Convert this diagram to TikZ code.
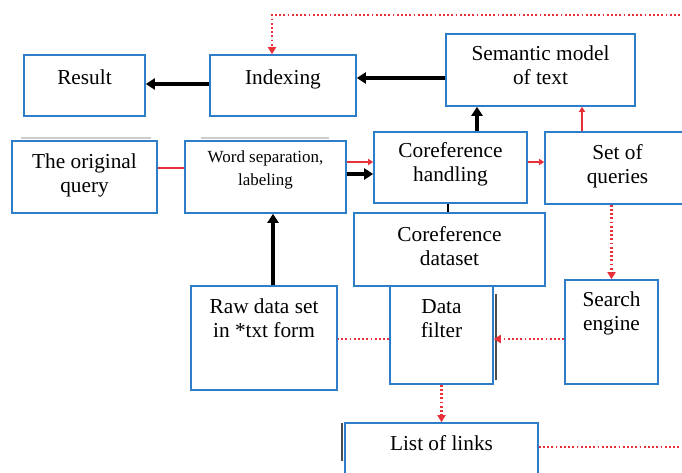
\documentclass[tikz,border=0pt]{standalone}
\usepackage{fontspec}
\setmainfont{Liberation Serif}
\usetikzlibrary{positioning, arrows.meta}

\definecolor{boxblue}{RGB}{46,125,200}
\definecolor{linkred}{RGB}{232,48,58}

\begin{document}
\begin{tikzpicture}[
		x=1pt, y=-1pt,
		box/.style={draw=boxblue, line width=1.6pt, fill=white, align=center, inner sep=0pt, font=\fontsize{21.3}{24}\selectfont},
		lift/.style={text height=0pt, text depth=#1},
		sink/.style={text height=#1, text depth=0pt},
		flow/.style={-{Triangle[length=9pt, width=11pt]}, line width=3.8pt},
		link/.style={draw=linkred, line width=1.8pt},
		feed/.style={link, -{Triangle[length=5pt, width=6pt]}},
		dots/.style={draw=linkred, line width=2.2pt, dash pattern=on 1.8pt off 2.4pt},
		query/.style={dots, -{Triangle[length=7pt, width=8pt]}},
		shade/.style={line width=1.8pt}
		]
		
		\useasboundingbox (0,0) rectangle (682,472);
		\clip (0,0) rectangle (682,472);
		
		% ==========================================
		% TOP ROW
		% ==========================================
		
		\node[box, lift=3pt, minimum width=121pt, minimum height=61pt] (res) at (84.5,85.5) {Result};
		\node[box, lift=3pt, minimum width=146pt, minimum height=61pt] (idx) at (283,85.5) {Indexing};
		\node[box, sink=28pt, minimum width=189pt, minimum height=72pt] (sem) at (540.5,70) {Semantic model\\ of text};
		
		% ==========================================
		% MIDDLE ROW
		% ==========================================
		
		\node[box, sink=30pt, minimum width=145pt, minimum height=72pt] (orig) at (84.5,177) {The original\\ query};
		\node[box, sink=17pt, minimum width=161pt, minimum height=72pt, font=\fontsize{17}{23}\selectfont] (word) at (265.5,177) {Word separation,\\ labeling};
		\node[box, sink=28pt, minimum width=153pt, minimum height=71pt] (coh) at (450.5,167.5) {Coreference\\ handling};
		\node[box, sink=30pt, minimum width=145pt, minimum height=72pt] (setq) at (617.5,168) {Set of\\ queries};
		\node[box, sink=31pt, minimum width=191pt, minimum height=73pt] (cod) at (449.5,249.5) {Coreference\\ dataset};
		
		% ==========================================
		% BOTTOM ROW
		% ==========================================
		
		\node[box, lift=2pt, minimum width=146pt, minimum height=104pt] (raw) at (264,338) {Raw data set\\ in *txt form};
		\node[box, sink=4pt, minimum width=103pt, minimum height=98pt] (filt) at (441.5,335) {Data\\ filter};
		\node[box, lift=4pt, minimum width=93pt, minimum height=104pt] (seng) at (611.5,332) {Search\\ engine};
		\node[box, lift=13pt, minimum width=193pt, minimum height=67pt] (links) at (441.5,456.5) {List of links};
		
		% shadows left on some frames
		\draw[shade, gray!40] ([xshift=10pt, yshift=2pt]orig.north west) -- ([xshift=-7pt, yshift=2pt]orig.north east);
		\draw[shade, gray!40] ([xshift=17pt, yshift=2pt]word.north west) -- ([xshift=-18pt, yshift=2pt]word.north east);
		\draw[shade, black!70] ([xshift=2pt, yshift=-9pt]filt.north east) -- ([xshift=2pt, yshift=5pt]filt.south east);
		\draw[shade, black!70] ([xshift=-2pt, yshift=-1pt]links.north west) -- ([xshift=-2pt, yshift=-39pt]links.north west);
		
		% ==========================================
		% MAIN FLOW (black)
		% ==========================================
		
		\draw[flow] ([yshift=1.5pt]idx.west) -- ([yshift=1.5pt]idx.west -| res.east);
		\draw[flow] ([yshift=-8pt]sem.west) -- ([yshift=-8pt]sem.west -| idx.east);
		\draw[flow] ([xshift=26.5pt]coh.north) -- ([xshift=26.5pt]coh.north |- sem.south);
		\draw[flow] ([yshift=3pt]word.east) -- ([yshift=3pt]word.east -| coh.west);
		\draw[flow] ([xshift=9pt]raw.north) -- ([xshift=9pt]raw.north |- word.south);
		\draw[line width=1.5pt] ([xshift=-2.5pt]coh.south) -- ([xshift=-2.5pt]coh.south |- cod.north);
		
		% ==========================================
		% QUERY FLOW (red)
		% ==========================================
		
		\draw[link] ([yshift=9pt]orig.east) -- ([yshift=9pt]orig.east -| word.west);
		\draw[feed] ([yshift=15pt]word.east) -- ([yshift=15pt]word.east -| coh.west);
		\draw[feed] ([yshift=5.5pt]coh.east) -- ([yshift=5.5pt]coh.east -| setq.west);
		\draw[feed] ([xshift=-35.5pt]setq.north) -- ([xshift=-35.5pt]setq.north |- sem.south);
		
		\draw[query] (seng.north |- setq.south) -- (seng.north);
		\draw[query] ([yshift=-7pt]seng.west) -- ([yshift=-7pt]seng.west -| filt.east);
		\draw[dots] ([yshift=-4pt]filt.west) -- ([yshift=-4pt]filt.west -| raw.east);
		\draw[query] (filt.south) -- (links.north);
		
		% back to indexing round the right side
		\coordinate (loopR) at (700,15);
		\draw[query] ([yshift=9.5pt]links.east) -| (loopR) -| ([xshift=-11pt]idx.north);
		
	\end{tikzpicture}
\end{document}
